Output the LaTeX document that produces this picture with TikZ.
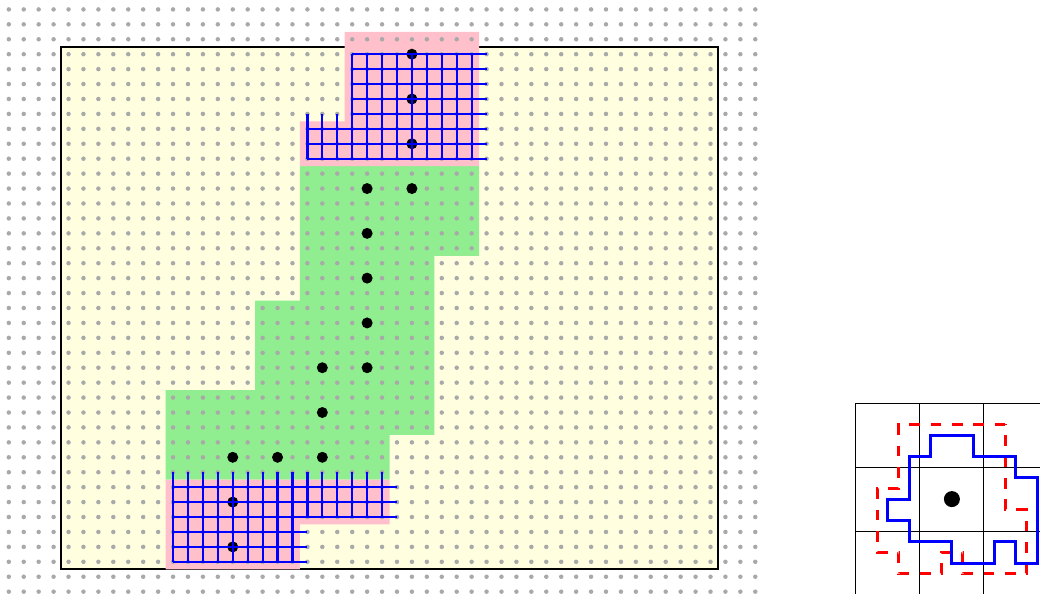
\documentclass[tikz,border=0pt]{standalone}
\usepackage{tikz}
\definecolor{cellyellow}{HTML}{FFFFE0}
\definecolor{cellpink}{HTML}{FFC0CB}
\definecolor{cellgreen}{HTML}{90EE90}
\definecolor{griddot}{HTML}{A9A9A9}
\tikzset{
  % fine grid
  sample/.style={fill=griddot},
  seed/.style={fill=black},
  frame/.style={draw=black,line width=1.25pt,fill=cellyellow},
  lattice/.style={draw=blue,line width=1.25pt},
  % inset
  cellline/.style={draw=black,line width=0.6pt},
  outline/.style={draw=blue,line width=1.7pt,line join=miter},
  contour/.style={draw=red,line width=1.7pt,dash pattern=on 0.2133cm off 0.2133cm},
}
\begin{document}
\begin{tikzpicture}[x=0.2986cm,y=-0.2986cm]
  \useasboundingbox (-0.59,-0.63) rectangle (69.07,39.156);
  \draw[frame] (3.5,2.5) rectangle (47.5,37.5);
  % regions
  \fill[cellgreen] (19.5,10.5) -- (31.5,10.5) -- (31.5,16.5) -- (28.5,16.5) -- (28.5,28.5)
    -- (25.5,28.5) -- (25.5,31.5) -- (10.5,31.5) -- (10.5,25.5) -- (16.5,25.5)
    -- (16.5,19.5) -- (19.5,19.5) -- cycle;
  \fill[cellpink] (22.5,1.5) -- (31.5,1.5) -- (31.5,10.5) -- (19.5,10.5) -- (19.5,7.5)
    -- (22.5,7.5) -- cycle;
  \fill[cellpink] (10.5,31.5) -- (25.5,31.5) -- (25.5,34.5) -- (19.5,34.5) -- (19.5,37.5)
    -- (10.5,37.5) -- cycle;
  % sample points
  \foreach \i in {0,...,50} {
    \foreach \j in {0,...,39} {
      \fill[sample] (\i,\j) circle (0.045cm);
    }
  }
  % seeds
  \foreach \i/\j in {27/3,27/6,27/9,24/12,27/12,24/15,24/18,24/21,21/24,24/24,21/27,
    15/30,18/30,21/30,15/33,15/36} {
    \fill[seed] (\i,\j) circle (0.11cm);
  }
  % lattice top
  \foreach \i in {23,...,31} { \draw[lattice] (\i,3) -- (\i,10); }
  \foreach \i in {20,21,22} { \draw[lattice] (\i,7) -- (\i,10); }
  \foreach \j in {3,...,7} { \draw[lattice] (23,\j) -- (32,\j); }
  \foreach \j in {8,9,10} { \draw[lattice] (20,\j) -- (32,\j); }
  % lattice bottom
  \foreach \i in {11,...,19} { \draw[lattice] (\i,31) -- (\i,37); }
  \foreach \i in {20,...,25} { \draw[lattice] (\i,31) -- (\i,34); }
  \foreach \j in {32,33,34} { \draw[lattice] (11,\j) -- (26,\j); }
  \foreach \j in {35,36,37} { \draw[lattice] (11,\j) -- (20,\j); }
  % inset
  \begin{scope}[shift={(63.17,32.8)},x=0.4267cm,y=-0.4267cm]
    \foreach \k in {-4.5,-1.5,1.5} { \draw[cellline] (\k,-4.5) -- (\k,4.5); }
    \foreach \k in {-4.5,-1.5,1.5} { \draw[cellline] (-4.5,\k) -- (4.5,\k); }
    \draw[contour] (2.5,-3.5) -- (-2.5,-3.5) -- (-2.5,-0.5) -- (-3.5,-0.5) -- (-3.5,2.5)
      -- (-2.5,2.5) -- (-2.5,3.5) -- (-0.5,3.5) -- (-0.5,2.5) -- (0.5,2.5) -- (0.5,3.5)
      -- (3.5,3.5) -- (3.5,0.5) -- (2.5,0.5) -- cycle;
    \draw[outline] (-1,-3) -- (1,-3) -- (1,-2) -- (3,-2) -- (3,-1) -- (4,-1) -- (4,3)
      -- (3,3) -- (3,2) -- (2,2) -- (2,3) -- (0,3) -- (0,2) -- (-2,2) -- (-2,1) -- (-3,1)
      -- (-3,0) -- (-2,0) -- (-2,-2) -- (-1,-2) -- cycle;
    \fill[seed] (0,0) circle (0.16cm);
  \end{scope}
\end{tikzpicture}
\end{document}
